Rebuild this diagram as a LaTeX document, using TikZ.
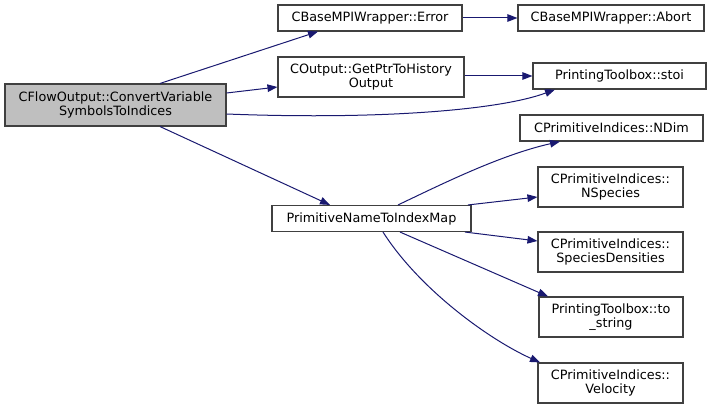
\documentclass[tikz,border=0pt]{standalone}
\usepackage{fontspec}
\setmainfont{DejaVu Sans}
\definecolor{EdgeBlue}{RGB}{25, 25, 112}
\definecolor{RootGrey}{RGB}{191, 191, 191}
\definecolor{BoxLine}{RGB}{64, 64, 64}
\usepackage{tikz}
\usetikzlibrary{arrows.meta,positioning,calc}

\begin{document}
\begin{tikzpicture}[x=1pt, y=-1pt,
    fn/.style={draw=BoxLine, line width=1.1pt, fill=white, inner sep=0pt, align=center,
        font=\fontsize{12.8}{13.6}\selectfont, minimum height=26pt},
    fntwo/.style={fn, minimum height=40pt},
    call/.style={draw=EdgeBlue, line width=1pt, -{Triangle[length=10pt, width=7.5pt]}, EdgeBlue}]
    \useasboundingbox (0,0) rectangle (709,409);
    % caller
    \node[fntwo, fill=RootGrey, minimum width=221pt, minimum height=42pt] (flow) at (115.5,105) {CFlowOutput::ConvertVariable\\SymbolsToIndices};
    % first level callees
    \node[fn, minimum width=184pt] (error) at (370,18) {CBaseMPIWrapper::Error};
    \node[fntwo, minimum width=186pt] (getptr) at (371,77) {COutput::GetPtrToHistory\\Output};
    \node[fn, minimum width=199pt] (primmap) at (371.5,218.5) {PrimitiveNameToIndexMap};
    % second level callees
    \node[fn, minimum width=186pt] (abort) at (611,18) {CBaseMPIWrapper::Abort};
    \node[fn, minimum width=173pt] (stoi) at (619.5,76) {PrintingToolbox::stoi};
    \node[fn, minimum width=183pt] (ndim) at (611.5,128) {CPrimitiveIndices::NDim};
    \node[fntwo, minimum width=145pt] (nspecies) at (610.5,187) {CPrimitiveIndices::\\NSpecies};
    \node[fntwo, minimum width=145pt] (specdens) at (610.5,252) {CPrimitiveIndices::\\SpeciesDensities};
    \node[fntwo, minimum width=144pt] (tostring) at (611,317) {PrintingToolbox::to\\\_string};
    \node[fntwo, minimum width=145pt] (velocity) at (610.5,383) {CPrimitiveIndices::\\Velocity};

    \draw[call] ([xshift=44.5pt]flow.north) -- ([xshift=-52pt]error.south);
    \draw[call] ([yshift=12pt]flow.east) -- ([yshift=-10pt]getptr.west);
    \draw[call] ([yshift=-9pt]flow.east) .. controls (380,120) and (500,110) .. ([xshift=-64.5pt]stoi.south);
    \draw[call] ([xshift=44.5pt]flow.south) -- ([xshift=-41.5pt]primmap.north);
    \draw[call] (error) -- (abort);
    \draw[call] (getptr.east |- stoi) -- (stoi);
    \draw[call] ([xshift=26.5pt]primmap.north) .. controls (440,185) and (500,155) .. ([xshift=-51.5pt]ndim.south);
    \draw[call] ([xshift=96.5pt]primmap.north) -- ([yshift=-10pt]nspecies.west);
    \draw[call] ([xshift=93.5pt]primmap.south) -- ([yshift=11pt]specdens.west);
    \draw[call] ([xshift=28.5pt]primmap.south) -- ([xshift=-63pt]tostring.north);
    \draw[call] ([xshift=11.5pt]primmap.south) .. controls (420,290) and (490,340) .. ([xshift=-70.5pt,yshift=0pt]velocity.north);
\end{tikzpicture}
\end{document}
